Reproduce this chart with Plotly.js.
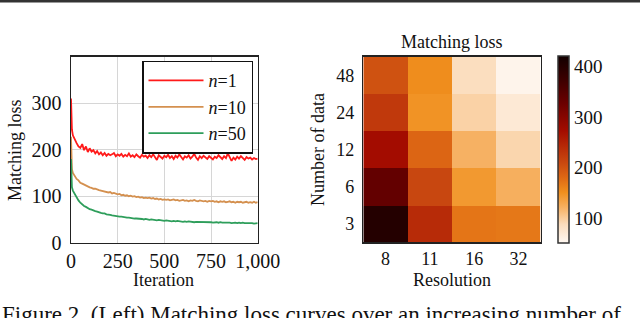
<!DOCTYPE html>
<html>
<head>
<meta charset="utf-8">
<script src="https://cdn.plot.ly/plotly-3.0.1.min.js"></script>
<style>
  html, body { margin: 0; padding: 0; background: #fff; }
  #chart { width: 640px; height: 318px; }
</style>
</head>
<body>
<div id="chart"></div>
<script>
// ---------- Left: matching loss curves ----------
const iterations = [0, 2, 5,
  10, 20, 30, 40, 50, 60, 70, 80, 90, 100,
  110, 120, 130, 140, 150, 160, 170, 180, 190, 200,
  210, 220, 230, 240, 250, 260, 270, 280, 290, 300,
  310, 320, 330, 340, 350, 360, 370, 380, 390, 400,
  410, 420, 430, 440, 450, 460, 470, 480, 490, 500,
  510, 520, 530, 540, 550, 560, 570, 580, 590, 600,
  610, 620, 630, 640, 650, 660, 670, 680, 690, 700,
  710, 720, 730, 740, 750, 760, 770, 780, 790, 800,
  810, 820, 830, 840, 850, 860, 870, 880, 890, 900,
  910, 920, 930, 940, 950, 960, 970, 980, 990, 1000];

const lossN1 = [310, 268, 243,
  231, 221, 214, 207, 204, 212, 199, 207, 195, 203,
  196, 199, 192, 197, 190, 194, 188, 193, 187, 191,
  188, 190, 193, 186, 190, 187, 191, 185, 189, 186,
  192, 185, 188, 184, 190, 186, 183, 189, 185, 187,
  182, 188, 184, 190, 183, 178, 188, 185, 181, 187,
  184, 189, 182, 186, 180, 187, 183, 190, 184, 179,
  186, 183, 188, 181, 185, 191, 183, 178, 186, 182,
  187, 184, 180, 186, 183, 179, 185, 182, 188, 184,
  180, 186, 182, 192, 185, 176, 183, 179, 185, 181,
  186, 182, 178, 184, 181, 183, 179, 182, 180, 181];

const lossN10 = [228, 176, 158,
  150, 143, 137, 134, 129, 127, 125, 122, 121, 119,
  118, 116, 116, 114, 113, 112, 111, 111, 109, 108,
  109, 106, 107, 105, 104, 105, 102, 103, 101, 102,
  100, 101, 99, 100, 98, 99, 97, 98, 96, 97,
  96, 97, 95, 96, 94, 95, 93, 94, 92, 93,
  92, 93, 91, 92, 93, 91, 92, 90, 91, 92,
  90, 91, 89, 91, 90, 92, 90, 89, 91, 90,
  89, 90, 88, 90, 89, 90, 88, 89, 87, 89,
  88, 89, 87, 88, 89, 87, 88, 86, 88, 87,
  88, 86, 87, 88, 86, 87, 86, 88, 86, 87];

const lossN50 = [180, 132, 119,
  112, 104, 97, 91, 86, 82, 79, 77, 74, 72,
  71, 69, 68, 67, 65, 64, 63, 63, 61, 61,
  60, 59, 58, 58, 57, 56, 56, 55, 55, 54,
  54, 53, 53, 52, 52, 52, 51, 51, 50, 51,
  50, 49, 50, 49, 49, 48, 49, 48, 48, 47,
  48, 47, 47, 46, 47, 46, 47, 46, 46, 45,
  46, 45, 46, 45, 45, 44, 45, 45, 44, 45,
  44, 44, 45, 44, 44, 43, 44, 44, 43, 44,
  43, 43, 44, 43, 43, 42, 43, 43, 42, 43,
  42, 43, 42, 42, 43, 42, 42, 41, 42, 42];

const seriesNames = ['<i>n</i>=1', '<i>n</i>=10', '<i>n</i>=50'];
const seriesColors = ['#ff1a1a', '#d4904f', '#2e9e5b'];

const xTickVals = [0, 250, 500, 750, 1000];
const xTickText = ['0', '250', '500', '750', '1,000'];
const yTickVals = [0, 100, 200, 300];

// ---------- Right: heatmap ----------
const resolutions = ['8', '11', '16', '32'];
const numData = ['3', '6', '12', '24', '48'];
const heatValues = [
  [400, 240, 170, 168],  // 3
  [335, 210, 142, 122],  // 6
  [272, 182, 120, 92],   // 12
  [225, 147, 95, 70],    // 24
  [200, 152, 85, 55]     // 48
];
const cbTickVals = [100, 200, 300, 400];

// ---------- helpers for pixel -> paper ----------
const W = 640, H = 318;
const px = v => v / W;
const py = v => 1 - v / H;

const serif = 'Liberation Serif, Times New Roman, serif';
const ink = '#111';

const lossSeries = [lossN1, lossN10, lossN50];
const traces = lossSeries.map((vals, i) => ({
  type: 'scatter', mode: 'lines',
  x: iterations, y: vals,
  name: seriesNames[i],
  line: {color: seriesColors[i], width: 1.8},
  xaxis: 'x', yaxis: 'y'
}));

traces.push({
  type: 'heatmap',
  x: resolutions, y: numData, z: heatValues,
  xaxis: 'x2', yaxis: 'y2',
  zmin: 50, zmax: 420,
  showlegend: false,
  colorscale: [
    [0.00, '#fff8f2'], [0.10, '#fbdcbc'], [0.19, '#f6b162'],
    [0.27, '#f0901e'], [0.35, '#de6814'], [0.43, '#c94810'],
    [0.51, '#b82c08'], [0.60, '#a30c00'], [0.75, '#6a0000'],
    [0.88, '#3a0000'], [1.00, '#120000']
  ],
  colorbar: {
    x: px(557.5), xanchor: 'left', xref: 'paper',
    y: py(243.3), yanchor: 'bottom', yref: 'paper',
    len: (243.3 - 56.7) / H, lenmode: 'fraction',
    thickness: 11, thicknessmode: 'pixels',
    outlinewidth: 1.5, outlinecolor: '#333',
    xpad: 0, ypad: 0,
    tickvals: cbTickVals, ticks: '',
    tickfont: {family: serif, size: 19, color: ink}
  }
});

const axisLine = {showline: true, mirror: true, linecolor: '#222', linewidth: 1.5, zeroline: false};

function label(text, x, y, opts) {
  return Object.assign({
    text: text, x: px(x), y: py(y), xref: 'paper', yref: 'paper',
    xanchor: 'center', yanchor: 'middle', showarrow: false,
    font: {family: serif, size: 18, color: ink}
  }, opts || {});
}

const layout = {
  width: W, height: H,
  margin: {l: 0, r: 0, t: 0, b: 0},
  paper_bgcolor: '#fff', plot_bgcolor: '#fff',
  font: {family: serif, color: ink},
  showlegend: true,
  xaxis: Object.assign({
    domain: [px(71), px(257.7)], range: [0, 1000],
    tickvals: xTickVals, ticktext: xTickText,
    showgrid: true, gridcolor: '#d6d6d6', gridwidth: 1,
    ticks: '', tickfont: {family: serif, size: 20, color: ink},
    anchor: 'y'
  }, axisLine),
  yaxis: Object.assign({
    domain: [py(242.7), py(56.7)], range: [0, 400],
    tickvals: yTickVals,
    showgrid: true, gridcolor: '#d6d6d6', gridwidth: 1,
    ticks: '', ticklabelstandoff: 4,
    tickfont: {family: serif, size: 20, color: ink},
    anchor: 'x'
  }, axisLine),
  xaxis2: Object.assign({
    domain: [px(363.3), px(540.7)],
    type: 'category', showgrid: false, ticks: '',
    tickfont: {family: serif, size: 18, color: ink},
    anchor: 'y2'
  }, axisLine),
  yaxis2: Object.assign({
    domain: [py(242.3), py(56.7)],
    type: 'category', showgrid: false, ticks: '',
    ticklabelstandoff: 4,
    tickfont: {family: serif, size: 18, color: ink},
    anchor: 'x2'
  }, axisLine),
  legend: {
    x: px(253), xanchor: 'right', y: py(60.7), yanchor: 'top',
    xref: 'paper', yref: 'paper',
    bgcolor: '#fff', bordercolor: '#111', borderwidth: 1.5,
    font: {family: serif, size: 18, color: ink},
    tracegroupgap: 0, itemwidth: 55
  },
  shapes: [
    {type: 'line', xref: 'paper', yref: 'paper', x0: 0, x1: 1, y0: py(1.2), y1: py(1.2),
     line: {color: '#333', width: 2.5}}
  ],
  annotations: [
    label('Matching loss', 15, 150, {textangle: -90}),
    label('Iteration', 163, 280),
    label('Matching loss', 452, 41.7),
    label('Resolution', 452, 280),
    label('Number of data', 318, 150, {textangle: -90}),
    label('Figure 2. (Left) Matching loss curves over an increasing number of', 0, 300,
      {xanchor: 'left', yanchor: 'top', font: {family: serif, size: 23, color: ink}})
  ]
};

Plotly.newPlot('chart', traces, layout, {displayModeBar: false, staticPlot: true});
</script>
</body>
</html>
